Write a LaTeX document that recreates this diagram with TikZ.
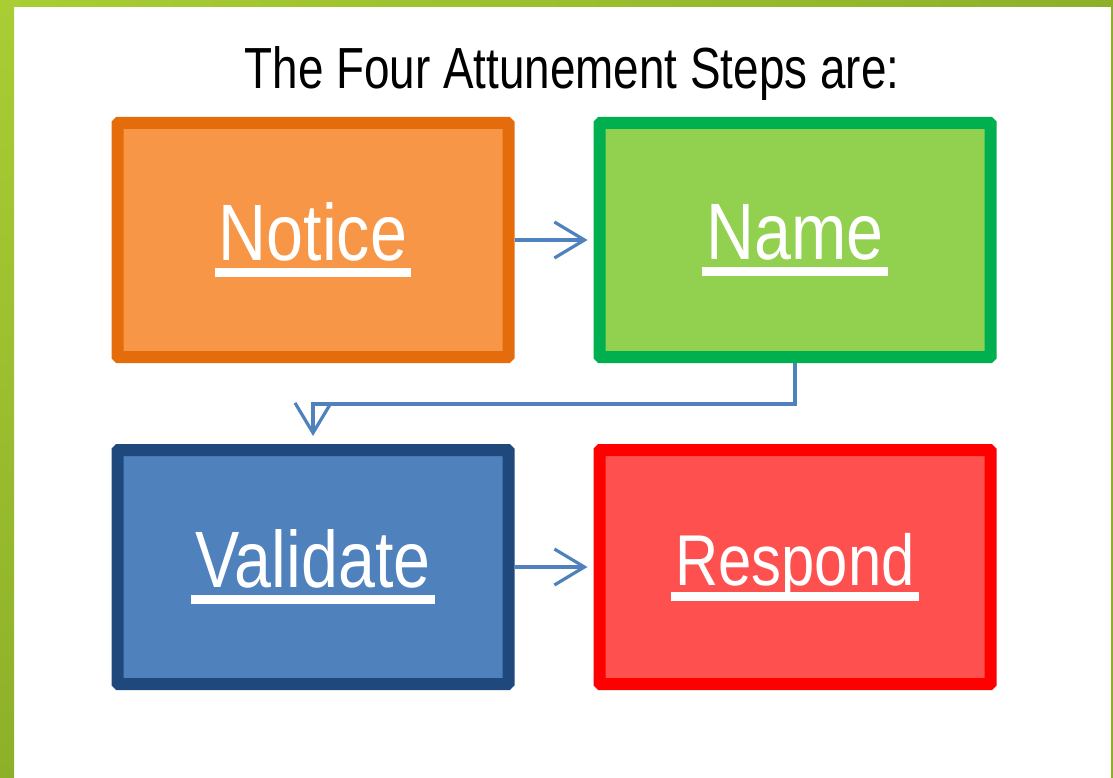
\documentclass[tikz,border=0pt]{standalone}
\usepackage{fontspec}
\usetikzlibrary{arrows.meta, positioning}
\newfontfamily\narrowsans[FakeStretch=0.83]{Liberation Sans}
\newfontfamily\titlesans[FakeStretch=0.79]{Liberation Sans}
\definecolor{framegreen}{HTML}{A9CD33}
\definecolor{framegreendark}{HTML}{8DB02A}
\definecolor{noticefill}{HTML}{F79646}
\definecolor{noticeline}{HTML}{E46C0A}
\definecolor{namefill}{HTML}{92D050}
\definecolor{nameline}{HTML}{00B050}
\definecolor{validatefill}{HTML}{4F81BD}
\definecolor{validateline}{HTML}{1F497D}
\definecolor{respondfill}{HTML}{FF5050}
\definecolor{respondline}{HTML}{FF0000}
\definecolor{linkblue}{HTML}{4F81BD}
% thick underline below a label, descenders run into it
\newcommand\steplabel[1]{\setbox0\hbox{#1}\dp0=0pt\vtop{\offinterlineskip\copy0\kern7pt
  \hbox to\wd0{\hss\vrule width\dimexpr\wd0+8pt\relax height 9pt depth 0pt\hss}}}
\tikzset{
  stepbox/.style={draw, line width=12pt, rounded corners=1pt, minimum width=391pt,
    minimum height=234pt, inner sep=0pt, text=white,
    font=\narrowsans\fontsize{80}{80}\selectfont},
  link/.style={-{Straight Barb[length=30pt, width=36pt]}, line width=3.2pt, color=linkblue},
  every node/.append style={font=\narrowsans}
}

\begin{document}
\begin{tikzpicture}
\useasboundingbox (0,0) rectangle (1113pt,-778pt);
% frame
\shade[left color=framegreen, right color=framegreendark] (0,0) rectangle (1113pt,-7pt);
\shade[top color=framegreen, bottom color=framegreendark] (0,0) rectangle (14pt,-778pt);
\fill[framegreendark] (1111pt,0) rectangle (1113pt,-778pt);

\node[anchor=base, font=\titlesans\fontsize{58}{58}\selectfont] (title) at (572pt,-89pt) {The Four Attunement Steps are:};

\node[stepbox, fill=noticefill, draw=noticeline] (notice) at (313pt,-240pt) {\steplabel{Notice}};
\node[stepbox, fill=namefill, draw=nameline, right=79pt of notice] (name) {\steplabel{Name}};
\node[stepbox, fill=validatefill, draw=validateline, below=81pt of notice] (validate) {\steplabel{Validate}};
\node[stepbox, fill=respondfill, draw=respondline, right=79pt of validate,
  font=\narrowsans\fontsize{72}{72}\selectfont] (respond) {\steplabel{Respond}};

\draw[link, shorten >=6pt] (notice) -- (name);
\draw[link, shorten >=8pt] (name.south) -- ++(0,-41pt) -| (validate.north);
\draw[link, shorten >=6pt] (validate) -- (respond);
\end{tikzpicture}
\end{document}
